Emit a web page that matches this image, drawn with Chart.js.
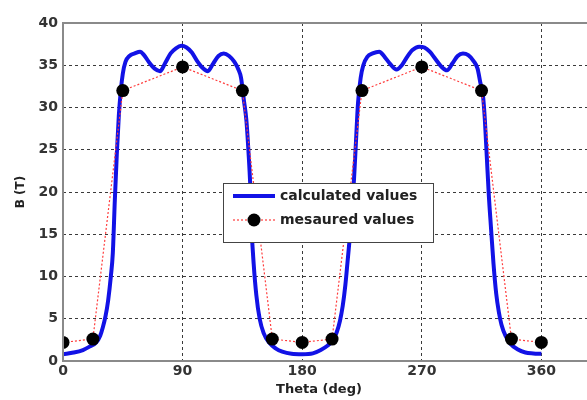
<!DOCTYPE html>
<html>
<head>
<meta charset="utf-8">
<script src="https://cdn.jsdelivr.net/npm/chart.js@4"></script>
<style>
  html, body { margin: 0; padding: 0; background: #fff; overflow: hidden; }
  #wrap { width: 587px; height: 400px; position: relative; overflow: hidden; }
</style>
</head>
<body>
<div id="wrap"><canvas id="myChart"></canvas></div>
<script>
// calculated curve (theta in deg, B in T)
var calcTheta = [0, 8, 15, 20, 25, 28, 30, 32, 34, 36, 37.5, 39, 40.5, 42, 43.5, 45, 47, 50, 54, 58, 61, 65, 69, 73, 77, 81, 85, 89, 93, 97, 101, 105, 109, 113, 117, 121, 125, 129, 132, 134, 136, 138, 139.5, 141, 142, 143.5, 145.5, 148, 151, 155, 160, 165, 172,
    180, 188, 194, 199, 203, 206, 208.5, 210.5, 212.5, 214, 216, 217.5, 219, 220.5, 222, 224, 226, 229, 233, 238, 242, 246, 251, 255, 259, 263, 268, 272, 276, 280, 285, 289, 293, 297, 301, 305, 309, 312, 314, 316, 317.5, 319, 320.5, 322, 324, 326, 328, 330, 333, 337, 342, 348, 354, 360];
var calcB = [0.8, 1.0, 1.3, 1.7, 2.2, 3.0, 4.0, 5.3, 7.2, 10.0, 12.8, 19.0, 24.5, 29.0, 32.0, 34.0, 35.4, 36.1, 36.4, 36.6, 36.2, 35.3, 34.6, 34.3, 35.3, 36.4, 37.0, 37.3, 37.1, 36.5, 35.5, 34.7, 34.3, 35.2, 36.1, 36.4, 36.1, 35.4, 34.5, 33.5, 31.0, 28.5, 25.0, 20.5, 15.5, 11.5, 7.8, 5.0, 3.3, 2.2, 1.5, 1.1, 0.85,
    0.8, 0.9, 1.3, 1.8, 2.4, 3.4, 4.8, 6.5, 9.0, 11.5, 15.0, 18.5, 21.5, 26.0, 30.5, 33.5, 35.0, 36.0, 36.4, 36.6, 36.0, 35.2, 34.5, 35.0, 36.0, 36.8, 37.2, 37.1, 36.6, 35.8, 34.8, 34.4, 35.2, 36.1, 36.4, 36.2, 35.5, 34.6, 33.0, 31.5, 28.5, 24.0, 19.5, 16.0, 11.5, 8.0, 5.8, 4.3, 3.0, 2.0, 1.4, 1.0, 0.9, 0.85];

// measured points
var measTheta = [0, 22.5, 45, 90, 135, 157.5, 180, 202.5, 225, 270, 315, 337.5, 360];
var measB = [2.2, 2.6, 32, 34.8, 32, 2.6, 2.2, 2.6, 32, 34.8, 32, 2.6, 2.2];

var xTicks = [0, 90, 180, 270, 360];
var seriesNames = ["calculated values", "mesaured values"];
var xTitle = "Theta (deg)";

var blue = "rgb(18, 18, 230)";
var red = "rgb(255, 60, 60)";
var font = "'DejaVu Sans', sans-serif";

function toPoints(xs, ys) {
    var pts = [];
    for (var i = 0; i < xs.length; i++) {
        pts.push({ x: xs[i], y: ys[i] });
    }
    return pts;
}

// solid axis box lines (left, bottom, top), x title, legend inside the plot
const boxAndLegend = {
    id: "boxAndLegend",
    afterDatasetsDraw(chart) {
        const ctx = chart.ctx;
        const area = chart.chartArea;
        ctx.save();
        ctx.strokeStyle = "#8a8a8a";
        ctx.lineWidth = 2;
        ctx.beginPath();
        ctx.moveTo(area.right, area.top);
        ctx.lineTo(area.left, area.top);
        ctx.lineTo(area.left, area.bottom);
        ctx.lineTo(area.right, area.bottom);
        ctx.stroke();
        ctx.restore();
    },
    afterDraw(chart) {
        const ctx = chart.ctx;
        ctx.save();
        // x axis title (the picture is cropped on the right, so centre it by hand)
        ctx.font = "bold 13px " + font;
        ctx.fillStyle = "#222";
        ctx.textAlign = "center";
        ctx.textBaseline = "middle";
        ctx.fillText(xTitle, 319, 390);

        // legend box
        var lx = 223, ly = 183, lw = 210, lh = 59;
        ctx.fillStyle = "#fff";
        ctx.fillRect(lx, ly, lw, lh);
        ctx.strokeStyle = "#444";
        ctx.lineWidth = 1;
        ctx.strokeRect(lx + 0.5, ly + 0.5, lw, lh);

        ctx.font = "bold 14px " + font;
        ctx.fillStyle = "#222";
        ctx.textAlign = "left";

        var y1 = ly + 13, y2 = ly + 37;
        ctx.strokeStyle = blue;
        ctx.lineWidth = 4;
        ctx.beginPath();
        ctx.moveTo(lx + 10, y1);
        ctx.lineTo(lx + 52, y1);
        ctx.stroke();
        ctx.fillText(seriesNames[0], lx + 57, y1);

        ctx.strokeStyle = red;
        ctx.lineWidth = 1.2;
        ctx.setLineDash([2, 2]);
        ctx.beginPath();
        ctx.moveTo(lx + 10, y2);
        ctx.lineTo(lx + 52, y2);
        ctx.stroke();
        ctx.setLineDash([]);
        ctx.fillStyle = "#000";
        ctx.beginPath();
        ctx.arc(lx + 31, y2, 6.5, 0, Math.PI * 2);
        ctx.fill();
        ctx.fillStyle = "#222";
        ctx.fillText(seriesNames[1], lx + 57, y2);
        ctx.restore();
    }
};

function gridColor(ctx) {
    var v = ctx.tick ? ctx.tick.value : null;
    if (v === 0 || v === 40) return "rgba(0,0,0,0)";
    return "#3a3a3a";
}

const config = {
    type: "line",
    data: {
        datasets: [
            {
                label: seriesNames[1],
                data: toPoints(measTheta, measB),
                borderColor: red,
                borderWidth: 1.2,
                borderDash: [2, 2],
                pointRadius: 6.5,
                pointBackgroundColor: "#000",
                pointBorderWidth: 0,
                fill: false,
                tension: 0,
                order: 0
            },
            {
                label: seriesNames[0],
                data: toPoints(calcTheta, calcB),
                borderColor: blue,
                borderWidth: 4,
                pointRadius: 0,
                fill: false,
                cubicInterpolationMode: "monotone",
                order: 1
            }
        ]
    },
    options: {
        responsive: false,
        animation: false,
        events: [],
        layout: { padding: { top: 23, right: 0, left: 0, bottom: 0 } },
        plugins: {
            legend: { display: false },
            tooltip: { enabled: false }
        },
        scales: {
            x: {
                type: "linear",
                min: 0,
                max: 400,
                afterBuildTicks: function (scale) {
                    scale.ticks = xTicks.map(function (v) { return { value: v }; });
                },
                afterFit: function (scale) {
                    scale.height = 39;
                },
                ticks: {
                    color: "#333",
                    font: { family: font, size: 14, weight: "bold" },
                    padding: 2,
                    maxRotation: 0
                },
                grid: {
                    color: gridColor,
                    lineWidth: 1,
                    drawTicks: false
                },
                border: { display: false, dash: [3, 3] },
                title: { display: false }
            },
            y: {
                min: 0,
                max: 40,
                afterFit: function (scale) { scale.width = 63; },
                ticks: {
                    stepSize: 5,
                    color: "#333",
                    font: { family: font, size: 14, weight: "bold" },
                    padding: 5
                },
                grid: {
                    color: gridColor,
                    lineWidth: 1,
                    drawTicks: false
                },
                border: { display: false, dash: [3, 3] },
                title: {
                    display: true,
                    text: "B (T)",
                    color: "#222",
                    font: { family: font, size: 12, weight: "bold" },
                    padding: { top: 14, bottom: 0 }
                }
            }
        }
    },
    plugins: [boxAndLegend]
};

// canvas a bit wider than the view: the reference is cut off just before theta = 400
const el = document.getElementById("myChart");
el.width = 601;
el.height = 400;
new Chart(el, config);
</script>
</body>
</html>
